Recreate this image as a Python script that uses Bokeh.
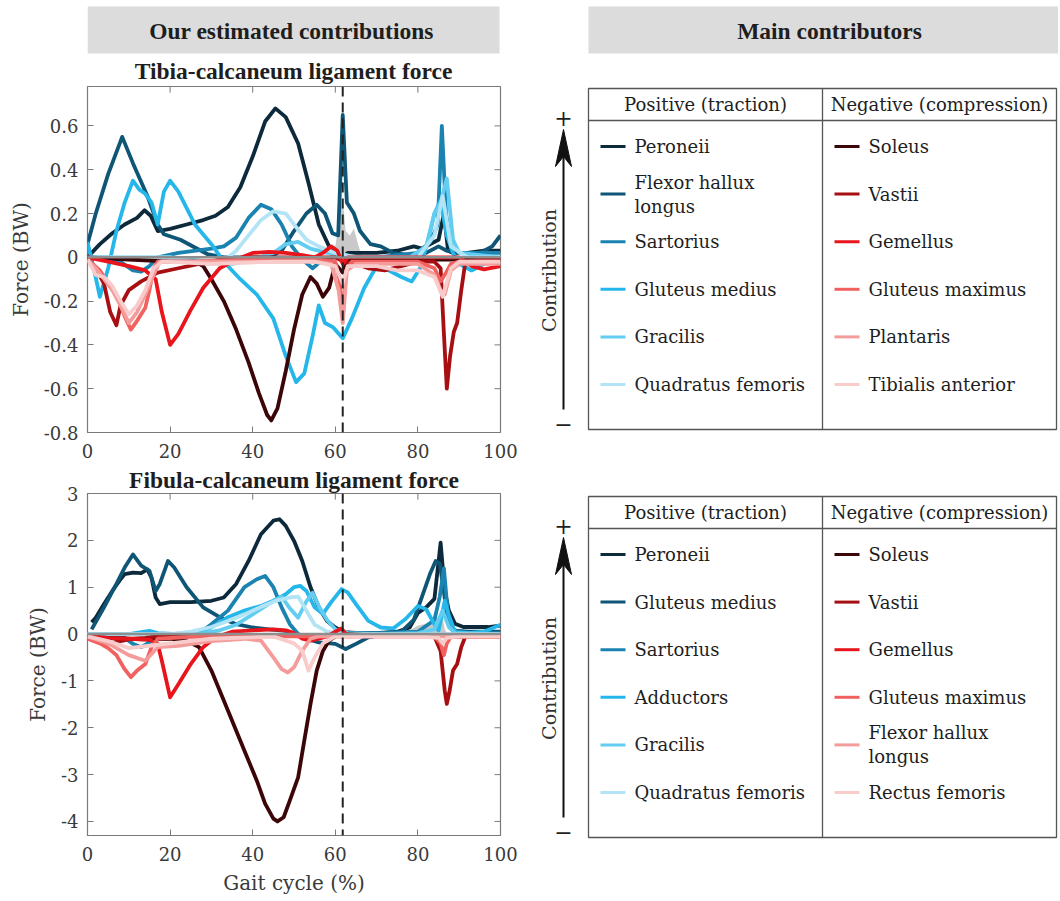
import math
from bokeh.plotting import figure
from bokeh.models import Range1d, FixedTicker, Span
from bokeh.layouts import row, column
from bokeh.embed import file_html
from bokeh.resources import INLINE
from bokeh.core.properties import value

# ---------------- data ----------------
X_TICKS = [0, 20, 40, 60, 80, 100]
X_LABELS = ["0", "20", "40", "60", "80", "100"]
T_Y_TICKS = [-0.8, -0.6, -0.4, -0.2, 0, 0.2, 0.4, 0.6]
T_Y_LABELS = ["-0.8", "-0.6", "-0.4", "-0.2", "0", "0.2", "0.4", "0.6"]
F_Y_TICKS = [-4, -3, -2, -1, 0, 1, 2, 3]
F_Y_LABELS = ["-4", "-3", "-2", "-1", "0", "1", "2", "3"]
TOE_OFF = 61.8

POS_COLORS = ["#0c2a3b", "#0f5575", "#1a83b0", "#25b7ea", "#62cdf0", "#b3e4f6"]
NEG_COLORS = ["#3c0609", "#a80f12", "#e8161c", "#f0615f", "#f49c9b", "#f9cccc"]

T_POS_LABELS = ["Peroneii", "Flexor hallux\nlongus", "Sartorius", "Gluteus medius", "Gracilis", "Quadratus femoris"]
T_NEG_LABELS = ["Soleus", "Vastii", "Gemellus", "Gluteus maximus", "Plantaris", "Tibialis anterior"]
F_POS_LABELS = ["Peroneii", "Gluteus medius", "Sartorius", "Adductors", "Gracilis", "Quadratus femoris"]
F_NEG_LABELS = ["Soleus", "Vastii", "Gemellus", "Gluteus maximus", "Flexor hallux\nlongus", "Rectus femoris"]

# Tibia-calcaneum ligament force (BW)
T_GRAY_X = [58.5, 60, 61.2, 61.8, 62.5, 63.5, 64.5, 65.5, 66.5]
T_GRAY_Y = [0, 0.05, 0.2, 0.27, 0.12, 0.1, 0.13, 0.06, 0]

T_PERONEII_X = [0, 3, 6, 9, 12, 13.8, 15.3, 17, 20, 24, 28, 31, 34, 37, 40, 43, 45.5, 48, 51, 53.5, 56, 58.5, 60, 61.8, 63, 66, 70, 75, 79, 81, 83, 85, 86.3, 87.3, 88.5, 92, 96, 100]
T_PERONEII_Y = [0.0, 0.06, 0.11, 0.15, 0.18, 0.215, 0.19, 0.12, 0.13, 0.15, 0.17, 0.19, 0.23, 0.32, 0.46, 0.62, 0.68, 0.64, 0.52, 0.34, 0.15, 0.05, 0.02, 0.0, 0.02, 0.02, 0.02, 0.03, 0.05, 0.04, 0.06, 0.08, 0.2, 0.03, 0.02, 0.02, 0.03, 0.03]
T_FLEXOR_X = [0, 2, 5, 8.4, 11, 14.5, 17, 18.5, 22.5, 26, 29, 33, 38, 44, 47, 50, 53, 55.5, 57.5, 59.3, 60.7, 61.8, 62.8, 64.5, 66, 68.5, 71, 74, 78, 82, 85, 87, 90, 95, 98, 100]
T_FLEXOR_Y = [0.06, 0.2, 0.38, 0.55, 0.43, 0.28, 0.15, 0.105, 0.08, 0.045, 0.015, 0.0, 0.0, 0.0, 0.03, 0.12, 0.2, 0.24, 0.2, 0.11, 0.1, 0.65, 0.25, 0.2, 0.12, 0.06, 0.05, 0.02, 0.01, 0.02, 0.05, 0.03, 0.02, 0.02, 0.05, 0.1]
T_SARTORIUS_X = [0, 5, 8, 11, 13, 15, 17, 22, 30, 33, 36, 39, 42, 44.5, 47, 49.5, 52, 54.5, 57, 60, 65, 70, 75, 80, 83, 84.8, 85.8, 86.8, 88, 90, 95, 100]
T_SARTORIUS_Y = [0.0, 0.0, -0.02, -0.06, -0.065, -0.04, 0.0, 0.02, 0.04, 0.05, 0.09, 0.18, 0.24, 0.22, 0.15, 0.05, -0.01, -0.05, -0.01, 0.0, 0.0, 0.0, 0.01, 0.02, 0.07, 0.15, 0.6, 0.2, 0.05, 0.02, 0.02, 0.02]
T_GLUTMED_X = [0, 1.5, 3, 5, 7, 9, 11, 12.5, 14, 15.5, 17, 18.5, 20, 22, 26, 30, 33, 37, 41, 45, 48, 50.5, 52.5, 54.5, 56, 57.5, 59.5, 61.8, 64, 67, 70, 73, 76, 78.5, 80.5, 82.5, 84, 85.5, 87, 88.5, 90, 93, 96, 100]
T_GLUTMED_Y = [0.07, -0.05, -0.18, -0.05, 0.12, 0.25, 0.35, 0.31, 0.29, 0.25, 0.15, 0.3, 0.35, 0.3, 0.15, 0.06, -0.02, -0.1, -0.17, -0.28, -0.45, -0.57, -0.53, -0.36, -0.22, -0.3, -0.32, -0.37, -0.28, -0.14, -0.04, -0.06, -0.09, -0.11, -0.05, 0.08, 0.2, 0.26, 0.1, 0.02, -0.03, -0.06, -0.03, -0.02]
T_GRACILIS_X = [0, 10, 20, 30, 35, 40, 45, 48, 51, 54, 58, 62, 66, 72, 78, 82, 84, 85.5, 87, 88.5, 90, 95, 100]
T_GRACILIS_Y = [0.0, 0.0, 0.0, -0.02, -0.03, -0.01, 0.02, 0.06, 0.07, 0.04, 0.02, 0.01, 0.0, 0.0, 0.0, 0.05, 0.2, 0.25, 0.36, 0.08, 0.02, 0.01, 0.0]
T_QUADFEM_X = [0, 10, 20, 28, 32, 36, 39, 42, 45, 48, 50, 53, 56, 60, 65, 70, 80, 84, 86, 88, 92, 100]
T_QUADFEM_Y = [0.0, 0.0, 0.0, -0.03, -0.03, 0.03, 0.1, 0.17, 0.21, 0.2, 0.15, 0.08, 0.05, 0.02, 0.0, 0.0, 0.0, 0.1, 0.28, 0.05, 0.0, 0.0]

T_SOLEUS_X = [0, 10, 20, 26, 28, 30, 33, 36, 39, 41.5, 43.5, 44.5, 46, 48, 50, 52, 54, 55.5, 57, 58.5, 60, 61.8, 63, 70, 80, 90, 100]
T_SOLEUS_Y = [0.0, -0.01, -0.02, -0.02, -0.04, -0.1, -0.2, -0.33, -0.48, -0.62, -0.72, -0.745, -0.69, -0.52, -0.33, -0.17, -0.09, -0.12, -0.18, -0.14, -0.03, -0.07, -0.01, -0.01, -0.01, -0.01, -0.01]
T_VASTII_X = [0, 2, 4, 5.5, 7, 8, 10, 13, 17, 22, 27, 32, 40, 50, 60, 62, 65, 68, 72, 76, 80, 84, 85.5, 86.3, 87, 87.8, 88.7, 89.5, 90.5, 91.5, 95, 100]
T_VASTII_Y = [0.0, -0.05, -0.12, -0.25, -0.31, -0.22, -0.15, -0.11, -0.07, -0.05, -0.03, -0.01, 0.0, 0.0, 0.0, -0.02, -0.03, -0.05, -0.06, -0.04, -0.02, -0.02, -0.05, -0.35, -0.6, -0.45, -0.34, -0.3, -0.15, -0.02, -0.01, -0.01]
T_GEMELLUS_X = [0, 5, 10, 14, 16.5, 18, 20, 22, 25, 28, 32, 36, 40, 44, 48, 52, 55, 57, 59, 60.5, 61.8, 63, 66, 70, 80, 90, 93, 96, 100]
T_GEMELLUS_Y = [0.0, -0.02, -0.04, -0.06, -0.1, -0.25, -0.4, -0.35, -0.24, -0.14, -0.05, -0.01, 0.02, 0.025, 0.02, 0.01, 0.0, 0.02, 0.05, 0.03, -0.03, 0.0, 0.0, 0.0, 0.0, 0.0, -0.04, -0.055, -0.04]
T_GLUTMAX_X = [0, 3, 5, 7, 9, 10.5, 12, 14, 15, 16, 17, 25, 40, 55, 60, 61, 61.8, 62.6, 64, 80, 84, 85.5, 86.5, 88, 90, 100]
T_GLUTMAX_Y = [-0.01, -0.06, -0.12, -0.17, -0.27, -0.33, -0.29, -0.23, -0.15, -0.05, -0.02, -0.02, -0.01, -0.01, -0.02, -0.1, -0.28, -0.06, -0.02, -0.02, -0.05, -0.11, -0.08, -0.03, -0.02, -0.02]
T_PLANTARIS_X = [0, 2, 4, 6, 8, 10, 12, 14, 16, 17.5, 25, 40, 55, 59, 60.8, 61.8, 62.8, 65, 80, 84, 85.5, 86.5, 88, 90, 100]
T_PLANTARIS_Y = [-0.01, -0.05, -0.1, -0.15, -0.22, -0.3, -0.25, -0.17, -0.08, -0.02, -0.02, -0.02, -0.02, -0.03, -0.15, -0.3, -0.06, -0.03, -0.03, -0.08, -0.15, -0.17, -0.06, -0.03, -0.03]
T_TIBANT_X = [0, 2, 4, 6, 8, 10, 12, 14, 16, 18, 30, 45, 55, 60, 61.8, 63, 70, 75, 80, 84, 86, 88, 90, 100]
T_TIBANT_Y = [-0.01, -0.08, -0.09, -0.13, -0.2, -0.26, -0.22, -0.15, -0.05, -0.02, -0.03, -0.02, -0.02, -0.04, -0.12, -0.04, -0.04, -0.06, -0.06, -0.09, -0.18, -0.05, -0.02, -0.02]

# Fibula-calcaneum ligament force (BW)
F_GRAY_X = [76, 78, 80, 82, 83.5, 85, 85.8, 86.5, 87.2]
F_GRAY_Y = [0, 0.08, 0.18, 0.22, 0.3, 0.35, 0.45, 0.1, 0]

F_PERONEII_X = [1, 2, 4, 6, 8, 9, 11, 13, 14.5, 15.5, 16.5, 17.5, 20, 25, 30, 33, 36, 39, 42, 45, 46.5, 48, 50, 52, 54, 56, 58, 60, 62, 66, 70, 75, 78, 80, 82, 84, 85.5, 86.5, 87.5, 89, 91, 94, 97, 100]
F_PERONEII_Y = [0.25, 0.35, 0.64, 0.92, 1.17, 1.28, 1.31, 1.3, 1.38, 1.2, 0.78, 0.64, 0.68, 0.68, 0.71, 0.78, 1.07, 1.56, 2.13, 2.42, 2.45, 2.31, 1.99, 1.56, 1.0, 0.57, 0.28, 0.14, 0.04, 0.02, 0.02, 0.05, 0.14, 0.45, 0.57, 0.75, 1.95, 0.92, 0.5, 0.22, 0.15, 0.15, 0.15, 0.18]
F_GLUTMED_X = [1, 4, 7, 9, 11, 13, 15, 16.5, 17.5, 19.5, 21, 24, 28, 32, 36, 40, 44, 48, 52, 56, 60, 62.5, 65, 68, 72, 76, 79, 81, 83, 84.3, 85.3, 86.3, 87.3, 88.5, 92, 100]
F_GLUTMED_Y = [0.1, 0.57, 1.07, 1.42, 1.7, 1.46, 1.35, 0.92, 1.07, 1.56, 1.42, 1.0, 0.57, 0.36, 0.21, 0.14, 0.1, 0.07, -0.07, -0.18, -0.21, -0.32, -0.21, -0.07, 0.0, 0.05, 0.3, 0.8, 1.3, 1.56, 1.5, 0.9, 0.25, 0.08, 0.05, 0.05]
F_SARTORIUS_X = [0, 5, 9, 11, 13, 15, 17, 20, 25, 28, 30, 34, 38, 41, 43, 45, 47, 49, 51, 53, 55, 58, 62, 70, 80, 84, 85.3, 86.3, 87.3, 88.5, 92, 100]
F_SARTORIUS_Y = [-0.03, -0.05, -0.08, -0.21, -0.28, -0.18, -0.05, 0.0, 0.02, 0.08, 0.21, 0.5, 1.0, 1.17, 1.24, 1.0, 0.57, 0.21, 0.0, -0.07, -0.1, 0.0, 0.02, 0.02, 0.05, 0.3, 0.8, 1.4, 0.4, 0.08, 0.03, 0.02]
F_ADDUCTORS_X = [0, 10, 13, 15, 17, 22, 27, 30, 34, 38, 42, 45, 48, 50, 51.5, 53, 55, 57, 59, 61.5, 63, 65, 68, 71, 74, 77, 80, 82, 84, 85, 86.5, 87.5, 89, 92, 96, 100]
F_ADDUCTORS_Y = [0.0, 0.0, 0.04, 0.07, 0.02, 0.0, 0.05, 0.14, 0.36, 0.5, 0.6, 0.71, 0.85, 1.0, 1.03, 0.92, 0.57, 0.43, 0.68, 0.96, 0.89, 0.64, 0.28, 0.14, 0.12, 0.32, 0.6, 0.53, 0.21, 0.07, 0.71, 0.4, 0.04, 0.02, 0.05, 0.2]
F_GRACILIS_X = [0, 20, 28, 32, 36, 40, 44, 47, 49, 51, 53, 54.5, 56, 58, 60, 63, 70, 80, 84, 86, 87.5, 89, 100]
F_GRACILIS_Y = [0.0, 0.0, 0.02, 0.08, 0.2, 0.42, 0.65, 0.8, 0.55, 0.35, 0.7, 0.88, 0.6, 0.3, 0.1, 0.02, 0.0, 0.02, 0.1, 0.5, 0.15, 0.02, 0.0]
F_QUADFEM_X = [0, 20, 25, 30, 34, 38, 42, 46, 49, 51, 53, 55, 58, 62, 70, 85, 100]
F_QUADFEM_Y = [0.0, 0.0, 0.05, 0.15, 0.28, 0.42, 0.58, 0.72, 0.78, 0.8, 0.5, 0.2, 0.05, 0.0, 0.0, 0.0, 0.0]

F_SOLEUS_X = [0, 5, 10, 15, 20, 24, 27, 30, 34, 38, 41, 43, 45, 46, 47.5, 49, 51, 52.5, 54, 55.5, 57, 58.5, 60, 62, 70, 80, 90, 100]
F_SOLEUS_Y = [-0.05, -0.08, -0.1, -0.12, -0.1, -0.15, -0.28, -0.78, -1.63, -2.49, -3.13, -3.62, -3.94, -4.0, -3.91, -3.55, -3.06, -2.27, -1.49, -0.78, -0.36, -0.14, -0.05, 0.0, -0.03, -0.03, -0.03, -0.03]
F_VASTII_X = [0, 3, 5, 8, 11, 14, 17, 22, 30, 50, 70, 84, 85.5, 86.5, 87, 87.7, 88.5, 89.5, 90.5, 91.5, 95, 100]
F_VASTII_Y = [-0.05, -0.12, -0.2, -0.15, -0.1, -0.08, -0.05, -0.03, -0.02, -0.02, -0.02, -0.05, -0.36, -1.21, -1.49, -1.2, -0.78, -0.64, -0.28, -0.05, -0.03, -0.03]
F_GEMELLUS_X = [0, 5, 10, 15, 17, 18, 20, 22, 25, 28, 31, 35, 40, 45, 48, 50, 52, 54, 56, 58, 60, 61.5, 63, 70, 80, 90, 100]
F_GEMELLUS_Y = [-0.05, -0.08, -0.1, -0.12, -0.21, -0.57, -1.35, -1.07, -0.64, -0.28, -0.07, 0.05, 0.08, 0.1, 0.08, 0.02, -0.1, -0.14, -0.1, -0.05, 0.05, 0.12, -0.05, -0.03, -0.03, -0.03, -0.03]
F_GLUTMAX_X = [0, 3, 5, 7, 9, 10.5, 12, 14, 15.5, 17, 25, 40, 60, 84, 85.5, 86.3, 87, 88, 100]
F_GLUTMAX_Y = [-0.1, -0.2, -0.3, -0.45, -0.75, -0.92, -0.78, -0.64, -0.28, -0.1, -0.06, -0.05, -0.05, -0.05, -0.2, -0.45, -0.2, -0.06, -0.06]
F_FLEXOR_X = [0, 5, 10, 14, 17, 22, 30, 38, 42, 45, 47, 48.5, 50, 52, 54, 56, 60, 80, 100]
F_FLEXOR_Y = [-0.05, -0.2, -0.45, -0.57, -0.28, -0.25, -0.15, -0.1, -0.14, -0.5, -0.75, -0.82, -0.71, -0.36, -0.1, -0.05, -0.05, -0.05, -0.05]
F_RECFEM_X = [0, 5, 10, 15, 20, 30, 45, 50, 52, 53.5, 55, 57, 60, 80, 85, 86, 87, 90, 100]
F_RECFEM_Y = [-0.05, -0.15, -0.3, -0.25, -0.2, -0.1, -0.05, -0.2, -0.36, -0.78, -0.5, -0.2, -0.05, -0.05, -0.08, -0.2, -0.08, -0.05, -0.05]

T_POS = [(T_PERONEII_X, T_PERONEII_Y), (T_FLEXOR_X, T_FLEXOR_Y), (T_SARTORIUS_X, T_SARTORIUS_Y),
         (T_GLUTMED_X, T_GLUTMED_Y), (T_GRACILIS_X, T_GRACILIS_Y), (T_QUADFEM_X, T_QUADFEM_Y)]
T_NEG = [(T_SOLEUS_X, T_SOLEUS_Y), (T_VASTII_X, T_VASTII_Y), (T_GEMELLUS_X, T_GEMELLUS_Y),
         (T_GLUTMAX_X, T_GLUTMAX_Y), (T_PLANTARIS_X, T_PLANTARIS_Y), (T_TIBANT_X, T_TIBANT_Y)]
F_POS = [(F_PERONEII_X, F_PERONEII_Y), (F_GLUTMED_X, F_GLUTMED_Y), (F_SARTORIUS_X, F_SARTORIUS_Y),
         (F_ADDUCTORS_X, F_ADDUCTORS_Y), (F_GRACILIS_X, F_GRACILIS_Y), (F_QUADFEM_X, F_QUADFEM_Y)]
F_NEG = [(F_SOLEUS_X, F_SOLEUS_Y), (F_VASTII_X, F_VASTII_Y), (F_GEMELLUS_X, F_GEMELLUS_Y),
         (F_GLUTMAX_X, F_GLUTMAX_Y), (F_FLEXOR_X, F_FLEXOR_Y), (F_RECFEM_X, F_RECFEM_Y)]

# ---------------- style ----------------
SERIF = "DejaVu Serif"
TIMES = "Liberation Serif"
FRAME = "#7a7a7a"
TXT = "#1e1e1e"
TICK_TXT = "#3a3a3a"
LEFT_W = 520
BL, BR = 87, 20  # frame borders of the left column (frames are aligned)


def bare(width, height, x0, x1, y0, y1, bl=0, br=0):
    p = figure(width=width, height=height, x_range=Range1d(x0, x1), y_range=Range1d(y0, y1),
               output_backend="svg", toolbar_location=None, x_axis_location=None, y_axis_location=None,
               min_border_left=bl, min_border_right=br, min_border_top=0, min_border_bottom=0,
               outline_line_color=None)
    p.grid.visible = False
    return p


def chart(height, ymin, ymax, yticks, ylabels, pos, neg, gray, mb_top, mb_bottom, xlabel, title=None):
    p = figure(width=LEFT_W, height=height, x_range=Range1d(0, 100), y_range=Range1d(ymin, ymax),
               output_backend="svg", toolbar_location=None, title=title,
               min_border_left=BL, min_border_right=BR, min_border_top=mb_top, min_border_bottom=mb_bottom,
               outline_line_color=FRAME, outline_line_width=1.2)
    if title:
        p.title.align = "center"
        p.title.text_font = TIMES
        p.title.text_font_style = "bold"
        p.title.text_font_size = "23.5px"
        p.title.text_color = TXT
        p.title.standoff = 2
        p.title.offset = -2
    p.grid.visible = False
    p.xaxis.ticker = FixedTicker(ticks=X_TICKS)
    p.yaxis.ticker = FixedTicker(ticks=yticks)
    p.xaxis.major_label_overrides = dict(zip(X_TICKS, X_LABELS))
    p.yaxis.major_label_overrides = dict(zip(yticks, ylabels))
    for ax in (p.xaxis, p.yaxis):
        ax.axis_line_color = None
        ax.major_tick_in = 6
        ax.major_tick_out = 0
        ax.major_tick_line_color = FRAME
        ax.minor_tick_line_color = None
        ax.major_label_text_font = SERIF
        ax.major_label_text_font_size = "18px"
        ax.major_label_text_color = TICK_TXT
        ax.axis_label_text_font = SERIF
        ax.axis_label_text_font_size = "20px"
        ax.axis_label_text_font_style = "normal"
        ax.axis_label_text_color = TICK_TXT
    p.yaxis.major_label_standoff = 9
    p.yaxis.axis_label = "Force (BW)"
    p.yaxis.axis_label_standoff = 8
    p.xaxis.major_label_standoff = 11
    if xlabel:
        p.xaxis.axis_label = xlabel
        p.xaxis.axis_label_standoff = 7
    # inward ticks on the top and right edges of the box
    ly = 0.018 * (ymax - ymin)
    nx, ny = len(X_TICKS), len(yticks)
    p.segment(x0=X_TICKS, y0=[ymax] * nx, x1=X_TICKS, y1=[ymax - ly] * nx, line_color=FRAME, line_width=1)
    p.segment(x0=[100] * ny, y0=yticks, x1=[100 - 1.45] * ny, y1=yticks, line_color=FRAME, line_width=1)
    gx, gy = gray
    p.varea(x=gx, y1=[0] * len(gx), y2=gy, fill_color="#c9c9c9")
    for (xs, ys), c in zip(pos, POS_COLORS):
        p.line(xs, ys, line_color=c, line_width=3.8, line_join="round")
    for (xs, ys), c in zip(neg, NEG_COLORS):
        p.line(xs, ys, line_color=c, line_width=3.8, line_join="round")
    p.add_layout(Span(location=0, dimension="width", line_color="#8e8e8e", line_width=2.5))
    p.add_layout(Span(location=TOE_OFF, dimension="height", line_color="#222222", line_width=2,
                      line_dash="10 6"))
    return p


def bold_text(p, x, y, s):
    p.text(x=[x], y=[y], text=[s], text_font=value(TIMES), text_font_style="bold", text_font_size="23.5px",
           text_align="center", text_baseline="middle", text_color=TXT)


# ---------------- left column ----------------
hL = bare(LEFT_W, 84, BL, LEFT_W - BR, 84, 0, BL, BR)
hL.quad(left=[BL], right=[499], top=[6], bottom=[53], fill_color="#dcdcdc", line_color=None)
bold_text(hL, 291, 30, "Our estimated contributions")
bold_text(hL, 293, 70, "Tibia-calcaneum ligament force")

p1 = chart(378, -0.8, 0.78, T_Y_TICKS, T_Y_LABELS, T_POS, T_NEG, (T_GRAY_X, T_GRAY_Y), 2, 30, None)

p2 = chart(435, -4.3, 3, F_Y_TICKS, F_Y_LABELS, F_POS, F_NEG, (F_GRAY_X, F_GRAY_Y), 31, 61,
           "Gait cycle (%)", title="Fibula-calcaneum ligament force")

# ---------------- right side ----------------
R_W, R_H = 538, 897
R = bare(R_W, R_H, LEFT_W, LEFT_W + R_W, R_H, 0)
R.quad(left=[588], right=[1058], top=[6], bottom=[53], fill_color="#dcdcdc", line_color=None)
bold_text(R, 829, 30, "Main contributors")

HEADERS = ["Positive (traction)", "Negative (compression)"]


def table(p, top, pos_labels, neg_labels):
    left, mid, right = 588, 822, 1056
    bottom = top + 341
    p.quad(left=[left], right=[right], top=[top], bottom=[bottom], fill_color=None,
           line_color="#555555", line_width=1.3)
    p.segment(x0=[left, mid], y0=[top + 32, top], x1=[right, mid], y1=[top + 32, bottom],
              line_color="#555555", line_width=1.3)
    p.text(x=[(left + mid) / 2, (mid + right) / 2], y=[top + 16] * 2, text=HEADERS, text_font=value(SERIF),
           text_font_size="18px", text_align="center", text_baseline="middle", text_color=TXT)
    for labels, colors, sx in ((pos_labels, POS_COLORS, left + 12), (neg_labels, NEG_COLORS, mid + 12)):
        for i, (lab, c) in enumerate(zip(labels, colors)):
            y = top + 58 + i * 47.6
            p.segment(x0=[sx], y0=[y], x1=[sx + 25], y1=[y], line_color=c, line_width=3)
            lines = lab.split("\n")
            n = len(lines)
            ys = [y + (j - (n - 1) / 2) * 24 for j in range(n)]
            p.text(x=[sx + 34] * n, y=ys, text=lines, text_font=value(SERIF), text_font_size="18px",
                   text_align="left", text_baseline="middle", text_color=TXT)
    ax = 563
    p.text(x=[ax], y=[top + 29], text=["+"], text_font=value(SERIF), text_font_size="22px",
           text_align="center", text_baseline="middle", text_color=TXT)
    p.text(x=[ax], y=[top + 335], text=["\u2212"], text_font=value(SERIF), text_font_size="22px",
           text_align="center", text_baseline="middle", text_color=TXT)
    p.segment(x0=[ax], y0=[top + 321], x1=[ax], y1=[top + 62], line_color="#111111", line_width=2)
    p.patch(x=[ax, ax - 8, ax, ax + 8], y=[top + 41, top + 78, top + 68, top + 78], fill_color="#111111",
            line_color="#111111", line_width=1)
    p.text(x=[ax - 15], y=[top + 182], text=["Contribution"], angle=math.pi / 2, text_font=value(SERIF),
           text_font_size="19px", text_align="center", text_baseline="middle", text_color="#333333")


table(R, 88, T_POS_LABELS, T_NEG_LABELS)
table(R, 496, F_POS_LABELS, F_NEG_LABELS)

layout = row(column(hL, p1, p2), R)
open("out.html", "w").write(file_html(layout, INLINE))
